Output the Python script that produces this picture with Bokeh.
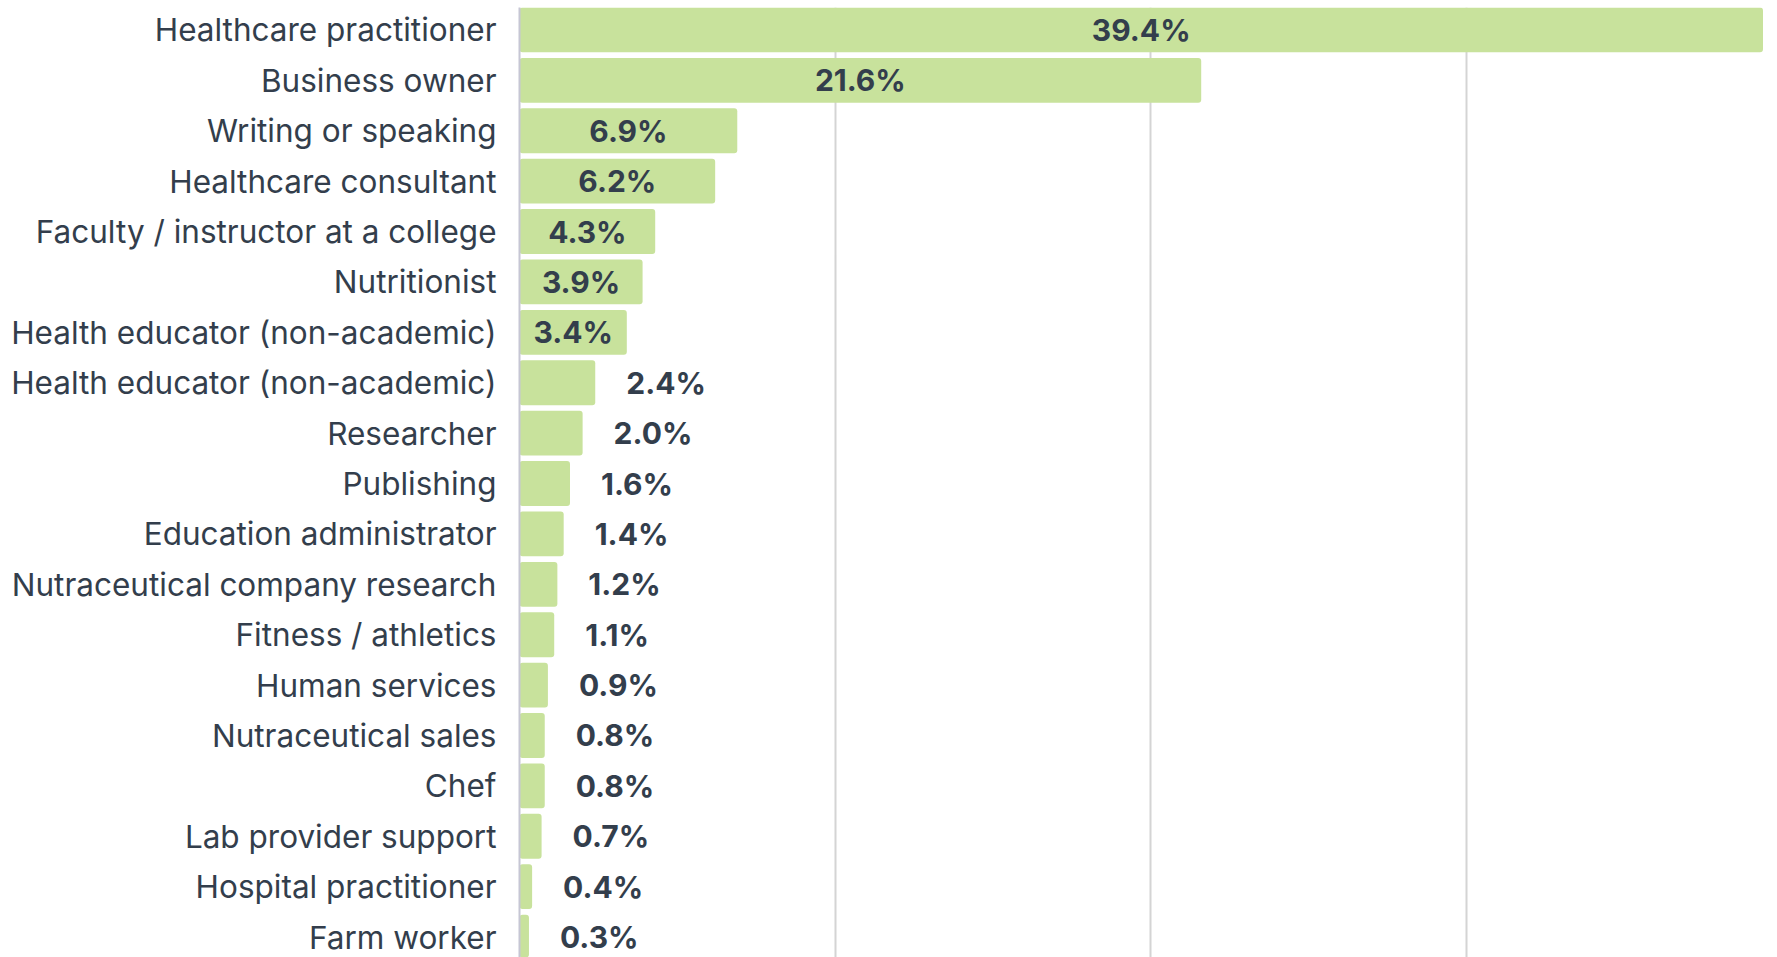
from bokeh.plotting import figure
from bokeh.models import ColumnDataSource, Range1d, FixedTicker, HBar
from bokeh.core.properties import value
from bokeh.embed import file_html
from bokeh.resources import INLINE

categories = [
    "Healthcare practitioner",
    "Business owner",
    "Writing or speaking",
    "Healthcare consultant",
    "Faculty / instructor at a college",
    "Nutritionist",
    "Health educator (non-academic)",
    "Health educator (non-academic)",
    "Researcher",
    "Publishing",
    "Education administrator",
    "Nutraceutical company research",
    "Fitness / athletics",
    "Human services",
    "Nutraceutical sales",
    "Chef",
    "Lab provider support",
    "Hospital practitioner",
    "Farm worker",
]
values = [39.4, 21.6, 6.9, 6.2, 4.3, 3.9, 3.4, 2.4, 2.0, 1.6, 1.4, 1.2, 1.1, 0.9, 0.8, 0.8, 0.7, 0.4, 0.3]
grid_ticks = [10, 20, 30]

FONT = "Inter"
TEXT_COLOR = "#333e4c"
BAR_COLOR = "#c8e29c"

pos = list(range(len(categories)))
inside = [v >= 3 for v in values]
label_x = [v / 2 if ins else v for v, ins in zip(values, inside)]
label_align = ["center" if ins else "left" for ins in inside]
label_off = [0 if ins else 31 for ins in inside]
label_text = [f"{v:.1f}%" for v in values]

src = ColumnDataSource(dict(y=pos, v=values, lx=label_x, al=label_align,
                            off=label_off, t=label_text))

p = figure(width=1777, height=957, output_backend="svg", toolbar_location=None,
           x_range=Range1d(0, 39.86), y_range=Range1d(18.405, -0.445),
           min_border_left=519, min_border_right=0, min_border_top=7,
           min_border_bottom=0, outline_line_color=None)

kw = {}
if "border_radius" in HBar.properties():
    kw["border_radius"] = 3
p.hbar(y="y", right="v", left=0, height=0.89, source=src, fill_color=BAR_COLOR,
       line_color=None, **kw)

p.text(x="lx", y="y", text="t", source=src, text_align="al", x_offset="off",
       text_baseline="middle", text_font=value(FONT), text_font_style="bold",
       text_font_size="30px", text_color=TEXT_COLOR)

p.xaxis.visible = False
p.xgrid.ticker = FixedTicker(ticks=grid_ticks)
p.xgrid.grid_line_color = "#d4d4d4"
p.xgrid.grid_line_width = 2
p.ygrid.grid_line_color = None

ax = p.yaxis[0]
ax.ticker = FixedTicker(ticks=pos)
ax.major_label_overrides = {i: c for i, c in zip(pos, categories)}
ax.major_label_text_font = FONT
ax.major_label_text_font_size = "31.5px"
ax.major_label_text_color = TEXT_COLOR
ax.major_label_standoff = 17
ax.major_tick_line_color = None
ax.minor_tick_line_color = None
ax.axis_line_color = "#c6c6d4"
ax.axis_line_width = 2

open("out.html", "w").write(file_html(p, INLINE))
